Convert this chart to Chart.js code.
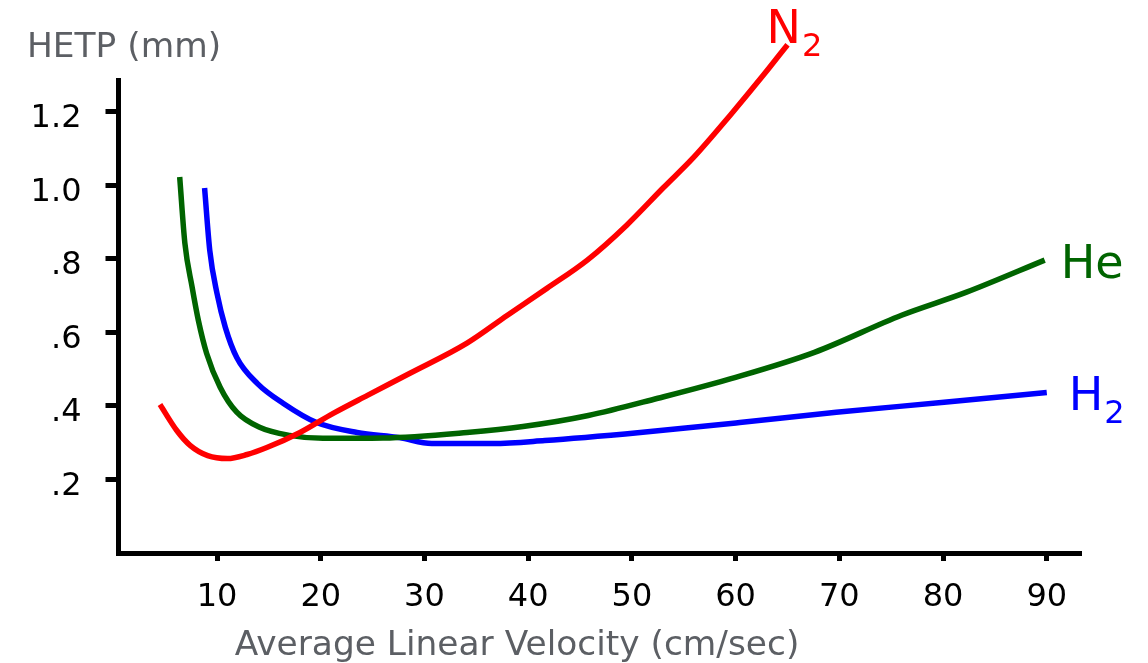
<!DOCTYPE html>
<html>
<head>
<meta charset="utf-8">
<script src="https://cdn.jsdelivr.net/npm/chart.js@4.4.1/dist/chart.umd.min.js"></script>
<style>
  html, body { margin: 0; padding: 0; background: #fff; }
  canvas { display: block; }
</style>
</head>
<body>
<canvas id="hetpChart" width="1148" height="663"></canvas>
<script>
// values (HETP vs linear velocity)
const n2Velocity = [4.5, 6.1, 7.4, 9.1, 11.0, 12.9, 14.8, 18.0, 21.2, 24.5, 28.6, 34.1, 38.0, 41.8, 45.7, 49.5, 53.0, 55.9, 59.5, 62.7, 65.0];
const n2Hetp     = [0.404, 0.334, 0.293, 0.265, 0.257, 0.268, 0.287, 0.328, 0.380, 0.429, 0.489, 0.571, 0.647, 0.720, 0.797, 0.892, 0.993, 1.075, 1.192, 1.301, 1.383];

const heVelocity = [6.4, 6.9, 7.6, 8.2, 9.0, 10.3, 11.9, 14.1, 17.0, 20.2, 26.0, 34.1, 39.5, 45.8, 52.5, 60.0, 67.6, 76.0, 82.2, 89.8];
const heHetp     = [1.023, 0.843, 0.723, 0.633, 0.543, 0.451, 0.383, 0.342, 0.320, 0.312, 0.313, 0.328, 0.344, 0.374, 0.421, 0.478, 0.546, 0.647, 0.709, 0.797];

const h2Velocity = [8.8, 9.3, 10.0, 10.8, 11.9, 13.9, 16.4, 19.6, 23.5, 27.6, 30.7, 36.6, 41.6, 50.8, 60.4, 69.7, 80.1, 90.0];
const h2Hetp     = [0.993, 0.823, 0.706, 0.614, 0.532, 0.461, 0.407, 0.355, 0.328, 0.314, 0.298, 0.298, 0.306, 0.328, 0.355, 0.383, 0.410, 0.437];

const xTickValues = [10, 20, 30, 40, 50, 60, 70, 80, 90];
const yTickValues = [0.2, 0.4, 0.6, 0.8, 1.0, 1.2];
const yTickLabels = ['.2', '.4', '.6', '.8', '1.0', '1.2'];

const gasNames = ['N', 'He', 'H'];
const gasSubs = ['2', '', '2'];
const gasColors = ['#ff0000', '#006400', '#0000ff'];

const fontFamily = '"DejaVu Sans", Verdana, sans-serif';

function toPoints(xs, ys) {
  return xs.map((x, i) => ({ x: x, y: ys[i] }));
}

// where each curve label sits relative to the curve's last point (px)
const labelOffsets = [[-21, -2], [16, 18], [22, 18]];

const curveLabels = {
  id: 'curveLabels',
  afterDatasetsDraw(chart) {
    const ctx = chart.ctx;
    ctx.save();
    ctx.textBaseline = 'alphabetic';
    ctx.textAlign = 'left';
    chart.data.datasets.forEach((ds, i) => {
      const meta = chart.getDatasetMeta(i);
      const last = meta.data[meta.data.length - 1];
      const x = last.x + labelOffsets[i][0];
      const y = last.y + labelOffsets[i][1];
      ctx.fillStyle = gasColors[i];
      ctx.font = '46px ' + fontFamily;
      ctx.fillText(gasNames[i], x, y);
      if (gasSubs[i]) {
        const w = ctx.measureText(gasNames[i]).width;
        ctx.font = '32px ' + fontFamily;
        ctx.fillText(gasSubs[i], x + w + 1, y + 13);
      }
    });
    ctx.restore();
  }
};

const axisTitles = {
  id: 'axisTitles',
  afterDraw(chart) {
    const ctx = chart.ctx;
    ctx.save();
    ctx.fillStyle = '#5c5f64';
    ctx.font = '34.4px ' + fontFamily;
    ctx.textBaseline = 'alphabetic';
    ctx.textAlign = 'left';
    ctx.fillText('HETP (mm)', 27, 57);
    ctx.textAlign = 'center';
    ctx.fillText('Average Linear Velocity (cm/sec)', 517, 655);
    ctx.restore();
  }
};

const datasets = [
  { label: 'N2', data: toPoints(n2Velocity, n2Hetp) },
  { label: 'He', data: toPoints(heVelocity, heHetp) },
  { label: 'H2', data: toPoints(h2Velocity, h2Hetp) }
].map((d, i) => Object.assign(d, {
  borderColor: gasColors[i],
  backgroundColor: gasColors[i],
  borderWidth: 5.5,
  pointRadius: 0,
  fill: false,
  showLine: true,
  tension: 0.4,
  cubicInterpolationMode: 'monotone',
  clip: false
}));

new Chart(document.getElementById('hetpChart'), {
  type: 'scatter',
  data: { datasets: datasets },
  options: {
    responsive: false,
    animation: false,
    layout: { padding: { top: 80, right: 67, left: 0, bottom: 0 } },
    plugins: {
      legend: { display: false },
      tooltip: { enabled: false }
    },
    scales: {
      x: {
        type: 'linear',
        min: 0.5,
        max: 93.3,
        afterBuildTicks: (s) => { s.ticks = xTickValues.map(v => ({ value: v })); },
        afterFit: (s) => { s.height = 110; },
        border: { display: true, color: '#000', width: 5 },
        grid: { drawOnChartArea: false, drawTicks: true, tickLength: 8, tickWidth: 5, tickColor: '#000' },
        ticks: {
          color: '#000',
          font: { family: fontFamily, size: 32 },
          padding: 17,
          maxRotation: 0,
          autoSkip: false
        }
      },
      y: {
        type: 'linear',
        min: 0,
        max: 1.287,
        afterBuildTicks: (s) => { s.ticks = yTickValues.map(v => ({ value: v })); },
        afterFit: (s) => { s.width = 118.5; },
        border: { display: true, color: '#000', width: 5 },
        grid: { drawOnChartArea: false, drawTicks: true, tickLength: 13, tickWidth: 5, tickColor: '#000' },
        ticks: {
          color: '#000',
          font: { family: fontFamily, size: 32 },
          padding: 24,
          labelOffset: 7,
          autoSkip: false,
          callback: (value) => {
            const idx = yTickValues.findIndex(v => Math.abs(v - value) < 1e-6);
            return idx >= 0 ? yTickLabels[idx] : '';
          }
        }
      }
    }
  },
  plugins: [curveLabels, axisTitles]
});
</script>
</body>
</html>
